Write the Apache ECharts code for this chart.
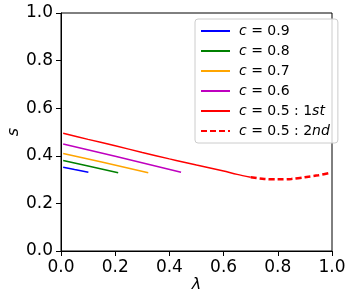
<!DOCTYPE html>
<html>
<head>
<meta charset="utf-8">
<script src="https://cdn.jsdelivr.net/npm/echarts@6/dist/echarts.min.js"></script>
<style>html,body{margin:0;padding:0;background:#fff;}#c{width:354px;height:302px;}</style>
</head>
<body>
<div id="c"></div>
<script>
const seriesNames = ['c = 0.9', 'c = 0.8', 'c = 0.7', 'c = 0.6', 'c = 0.5 : 1st', 'c = 0.5 : 2nd'];
const legendLabels = ['{i|c} = 0.9', '{i|c} = 0.8', '{i|c} = 0.7', '{i|c} = 0.6', '{i|c} = 0.5 : 1{i|st}', '{i|c} = 0.5 : 2{i|nd}'];
const colors = ['#0000ff', '#008000', '#ffa500', '#bf00bf', '#ff0000', '#ff0000'];

const lam09 = [0.008, 0.05, 0.101];
const s09 = [0.352, 0.342, 0.331];
const lam08 = [0.008, 0.1, 0.211];
const s08 = [0.380, 0.357, 0.329];
const lam07 = [0.008, 0.15, 0.322];
const s07 = [0.410, 0.374, 0.329];
const lam06 = [0.008, 0.2, 0.443];
const s06 = [0.450, 0.398, 0.331];
const lam05a = [0.008, 0.1, 0.2, 0.3, 0.4, 0.45, 0.5, 0.55, 0.6, 0.65, 0.7];
const s05a = [0.495, 0.469, 0.442, 0.414, 0.387, 0.374, 0.361, 0.349, 0.336, 0.322, 0.310];
const lam05b = [0.7, 0.75, 0.8, 0.85, 0.9, 0.95, 0.995];
const s05b = [0.310, 0.303, 0.301, 0.303, 0.310, 0.318, 0.329];

const xTicks = [0.0, 0.2, 0.4, 0.6, 0.8, 1.0];
const yTicks = [0.0, 0.2, 0.4, 0.6, 0.8, 1.0];

const allLam = [lam09, lam08, lam07, lam06, lam05a, lam05b];
const allS = [s09, s08, s07, s06, s05a, s05b];

const zip = (a, b) => a.map((v, i) => [v, b[i]]);
const series = seriesNames.map((n, k) => ({
  name: n,
  type: 'line',
  data: zip(allLam[k], allS[k]),
  symbol: 'none',
  smooth: k >= 4 ? 0.3 : false,
  lineStyle: { color: colors[k], width: k === 5 ? 2.5 : 1.5, type: k === 5 ? [6, 3] : 'solid' },
  itemStyle: { color: colors[k] },
  animation: false
}));

const chart = echarts.init(document.getElementById('c'), null, { renderer: 'canvas' });
const font = 'DejaVu Sans';
chart.setOption({
  animation: false,
  grid: { left: 61, right: 22, top: 13, bottom: 51, show: true, borderColor: '#000', borderWidth: 1, containLabel: false, outerBoundsMode: 'none' },
  xAxis: {
    type: 'value', min: 0, max: 1, interval: 0.2,
    name: 'λ', nameLocation: 'middle', nameGap: 26, nameMoveOverlap: false,
    nameTextStyle: { fontFamily: font, fontSize: 16, fontStyle: 'italic', color: '#000' },
    axisLine: { show: true, lineStyle: { color: '#000', width: 1 } },
    axisTick: { show: true, length: 5, lineStyle: { color: '#000' } },
    axisLabel: { fontFamily: font, fontSize: 17, color: '#000', margin: 8, formatter: v => v.toFixed(1) },
    splitLine: { show: false }
  },
  yAxis: {
    type: 'value', min: 0, max: 1, interval: 0.2,
    name: 's', nameLocation: 'middle', nameGap: 39, nameMoveOverlap: false,
    nameTextStyle: { fontFamily: font, fontSize: 16, fontStyle: 'italic', color: '#000' },
    axisLine: { show: true, lineStyle: { color: '#000', width: 1 } },
    axisTick: { show: true, length: 5, lineStyle: { color: '#000' } },
    axisLabel: { fontFamily: font, fontSize: 17, color: '#000', margin: 8, formatter: v => v.toFixed(1) },
    splitLine: { show: false }
  },
  legend: {
    orient: 'vertical', left: 195, top: 19,
    padding: [5, 8, 5, 5],
    itemWidth: 29, itemHeight: 14, itemGap: 6,
    borderColor: '#cccccc', borderWidth: 1, borderRadius: 3,
    backgroundColor: 'rgba(255,255,255,0.8)',
    data: seriesNames,
    itemStyle: { opacity: 0 },
    formatter: n => legendLabels[seriesNames.indexOf(n)],
    textStyle: {
      fontFamily: font, fontSize: 14, color: '#000', padding: [0, 0, 0, 4],
      rich: { i: { fontFamily: font, fontSize: 14, fontStyle: 'italic', color: '#000' } }
    }
  },
  series: series
});
</script>
</body>
</html>
